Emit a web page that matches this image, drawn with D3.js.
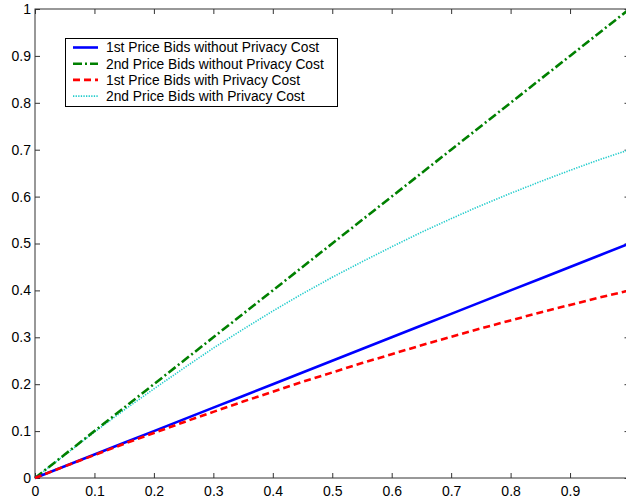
<!DOCTYPE html>
<html><head><meta charset="utf-8">
<script src="https://cdn.jsdelivr.net/npm/d3@7"></script>
<style>body{margin:0;background:#fff}svg{display:block}text{font-family:"Liberation Sans",Arial,sans-serif}</style>
</head><body><svg id="c" width="626" height="502"></svg>
<script>
const xs = [0,0.05,0.1,0.15,0.2,0.25,0.3,0.35,0.4,0.45,0.5,0.55,0.6,0.65,0.7,0.75,0.8,0.85,0.9,0.95,1.0];
const firstNoCost = [0,0.025,0.05,0.075,0.1,0.125,0.15,0.175,0.2,0.225,0.25,0.275,0.3,0.325,0.35,0.375,0.4,0.425,0.45,0.475,0.5];
const secondNoCost = [0,0.05,0.1,0.15,0.2,0.25,0.3,0.35,0.4,0.45,0.5,0.55,0.6,0.65,0.7,0.75,0.8,0.85,0.9,0.95,1.0];
const firstCost = [0,0.025,0.049,0.073,0.096,0.119,0.141,0.163,0.184,0.205,0.225,0.245,0.264,0.283,0.301,0.319,0.336,0.353,0.369,0.385,0.400];
const secondCost = [0,0.049,0.098,0.145,0.19,0.234,0.277,0.317,0.356,0.393,0.428,0.461,0.493,0.524,0.553,0.581,0.607,0.632,0.656,0.679,0.700];
const seriesNames = ["1st Price Bids without Privacy Cost","2nd Price Bids without Privacy Cost","1st Price Bids with Privacy Cost","2nd Price Bids with Privacy Cost"];
const xTicks = [0,0.1,0.2,0.3,0.4,0.5,0.6,0.7,0.8,0.9];
const yTicks = [0,0.1,0.2,0.3,0.4,0.5,0.6,0.7,0.8,0.9,1];

const svg = d3.select("#c");
const L=35, R=629.5, T=9, B=478;
const x = d3.scaleLinear().domain([0,1]).range([L,R]);
const y = d3.scaleLinear().domain([0,1]).range([B,T]);
const axisColor="#333";
const fmt = d=> d===0?"0":(d===1?"1":d3.format(".1f")(d));

function styleAxis(g){g.select(".domain").remove();g.selectAll("line").attr("stroke",axisColor);g.selectAll("text").attr("font-size",14).attr("fill","#000");}
svg.append("g").attr("transform",`translate(0,${B})`).call(d3.axisBottom(x).tickValues(xTicks).tickFormat(fmt).tickSizeInner(-5).tickSizeOuter(0).tickPadding(8)).call(styleAxis);
svg.append("g").attr("transform",`translate(0,${T})`).call(d3.axisTop(x).tickValues(xTicks).tickFormat("").tickSizeInner(-5).tickSizeOuter(0)).call(styleAxis);
svg.append("g").attr("transform",`translate(${L},0)`).call(d3.axisLeft(y).tickValues(yTicks).tickFormat(fmt).tickSizeInner(-5).tickSizeOuter(0).tickPadding(4)).call(styleAxis);
svg.append("g").attr("transform",`translate(${R},0)`).call(d3.axisRight(y).tickValues(yTicks).tickFormat("").tickSizeInner(-5).tickSizeOuter(0)).call(styleAxis);
svg.append("rect").attr("x",L).attr("y",T).attr("width",R-L).attr("height",B-T).attr("fill","none").attr("stroke",axisColor).attr("stroke-width",1);

const styles = [
  {c:"#0000ff",w:2.6,d:null},
  {c:"#008000",w:2.6,d:"9,3,2,3"},
  {c:"#ff0000",w:2.6,d:"7,4"},
  {c:"#22cccc",w:1.6,d:"1.3,1.3"}
];
const data=[firstNoCost,secondNoCost,firstCost,secondCost];
const line = d3.line().x((d,i)=>x(xs[i])).y(d=>y(d));
[3,1,0,2].forEach(k=>{
  svg.append("path").datum(data[k]).attr("d",line).attr("fill","none")
    .attr("stroke",styles[k].c).attr("stroke-width",styles[k].w)
    .attr("stroke-dasharray",styles[k].d);
});

const lg = svg.append("g");
lg.append("rect").attr("x",65.5).attr("y",38.5).attr("width",272).attr("height",68).attr("fill","#fff").attr("stroke","#000").attr("stroke-width",1);
seriesNames.forEach((n,i)=>{
  const yy = 47.5+i*16.2;
  lg.append("line").attr("x1",73).attr("x2",98).attr("y1",yy).attr("y2",yy)
    .attr("stroke",styles[i].c).attr("stroke-width",styles[i].w).attr("stroke-dasharray",styles[i].d);
  lg.append("text").attr("x",106).attr("y",yy).attr("dy","0.35em").attr("font-size",13.8).text(n);
});
</script></body></html>
